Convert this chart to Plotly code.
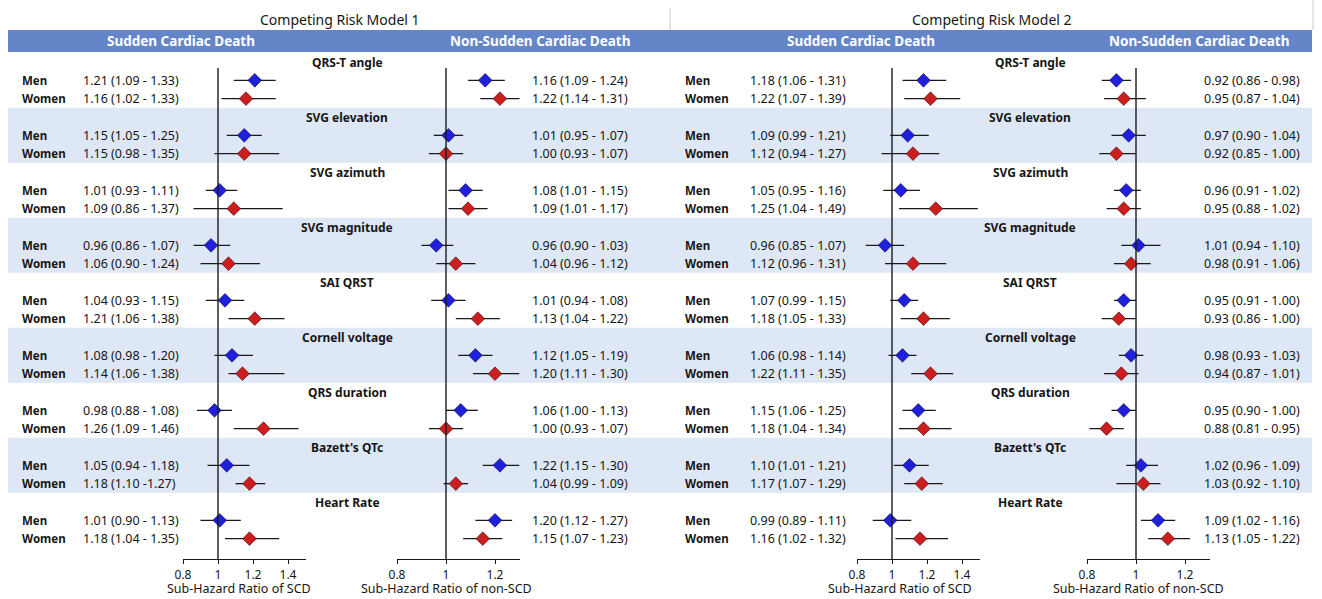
import plotly.graph_objects as go

W, H = 1322, 599

groups = ["QRS-T angle", "SVG elevation", "SVG azimuth", "SVG magnitude", "SAI QRST",
          "Cornell voltage", "QRS duration", "Bazett's QTc", "Heart Rate"]
sexes = ["Men", "Women"]

# Competing Risk Model 1 - sudden cardiac death
m1_scd_men_hr = [1.21, 1.15, 1.01, 0.96, 1.04, 1.08, 0.98, 1.05, 1.01]
m1_scd_men_lo = [1.09, 1.05, 0.93, 0.86, 0.93, 0.98, 0.88, 0.94, 0.90]
m1_scd_men_hi = [1.33, 1.25, 1.11, 1.07, 1.15, 1.20, 1.08, 1.18, 1.13]
m1_scd_women_hr = [1.16, 1.15, 1.09, 1.06, 1.21, 1.14, 1.26, 1.18, 1.18]
m1_scd_women_lo = [1.02, 0.98, 0.86, 0.90, 1.06, 1.06, 1.09, 1.10, 1.04]
m1_scd_women_hi = [1.33, 1.35, 1.37, 1.24, 1.38, 1.38, 1.46, 1.27, 1.35]

# Competing Risk Model 1 - non-sudden cardiac death
m1_nscd_men_hr = [1.16, 1.01, 1.08, 0.96, 1.01, 1.12, 1.06, 1.22, 1.20]
m1_nscd_men_lo = [1.09, 0.95, 1.01, 0.90, 0.94, 1.05, 1.00, 1.15, 1.12]
m1_nscd_men_hi = [1.24, 1.07, 1.15, 1.03, 1.08, 1.19, 1.13, 1.30, 1.27]
m1_nscd_women_hr = [1.22, 1.00, 1.09, 1.04, 1.13, 1.20, 1.00, 1.04, 1.15]
m1_nscd_women_lo = [1.14, 0.93, 1.01, 0.96, 1.04, 1.11, 0.93, 0.99, 1.07]
m1_nscd_women_hi = [1.31, 1.07, 1.17, 1.12, 1.22, 1.30, 1.07, 1.09, 1.23]

# Competing Risk Model 2 - sudden cardiac death
m2_scd_men_hr = [1.18, 1.09, 1.05, 0.96, 1.07, 1.06, 1.15, 1.10, 0.99]
m2_scd_men_lo = [1.06, 0.99, 0.95, 0.85, 0.99, 0.98, 1.06, 1.01, 0.89]
m2_scd_men_hi = [1.31, 1.21, 1.16, 1.07, 1.15, 1.14, 1.25, 1.21, 1.11]
m2_scd_women_hr = [1.22, 1.12, 1.25, 1.12, 1.18, 1.22, 1.18, 1.17, 1.16]
m2_scd_women_lo = [1.07, 0.94, 1.04, 0.96, 1.05, 1.11, 1.04, 1.07, 1.02]
m2_scd_women_hi = [1.39, 1.27, 1.49, 1.31, 1.33, 1.35, 1.34, 1.29, 1.32]

# Competing Risk Model 2 - non-sudden cardiac death
m2_nscd_men_hr = [0.92, 0.97, 0.96, 1.01, 0.95, 0.98, 0.95, 1.02, 1.09]
m2_nscd_men_lo = [0.86, 0.90, 0.91, 0.94, 0.91, 0.93, 0.90, 0.96, 1.02]
m2_nscd_men_hi = [0.98, 1.04, 1.02, 1.10, 1.00, 1.03, 1.00, 1.09, 1.16]
m2_nscd_women_hr = [0.95, 0.92, 0.95, 0.98, 0.93, 0.94, 0.88, 1.03, 1.13]
m2_nscd_women_lo = [0.87, 0.85, 0.88, 0.91, 0.86, 0.87, 0.81, 0.92, 1.05]
m2_nscd_women_hi = [1.04, 1.00, 1.02, 1.06, 1.00, 1.01, 0.95, 1.10, 1.22]

scd_ticks = [0.8, 1, 1.2, 1.4]
nscd_ticks = [0.8, 1, 1.2]
tick_text_scd = ["0.8", "1", "1.2", "1.4"]
tick_text_nscd = ["0.8", "1", "1.2"]

model_titles = ["Competing Risk Model 1", "Competing Risk Model 2"]
outcome_titles = ["Sudden Cardiac Death", "Non-Sudden Cardiac Death"]
axis_titles = ["Sub-Hazard Ratio of SCD", "Sub-Hazard Ratio of non-SCD"]

FONT = "Noto Sans, Open Sans, DejaVu Sans, sans-serif"
TXT = "#161616"
MEN_C = "#2020DC"
WOMEN_C = "#CC1E1E"
BAND_C = "#DEE7F5"
HEAD_C = "#6585C9"

# vertical layout: slot 0 = group title, 1 = men, 2 = women; 55 px per group
TOP_PX, SLOT_PX, AX_PX = 62.0, 55.0 / 3, 559.0


def slot_of_px(p):
    return (p - TOP_PX) / SLOT_PX


def paper_y(p):
    return 1 - p / H


def paper_x(p):
    return p / W


panels = [
    dict(px=(183, 305.5), rng=[0.8, 1.5], tv=scd_ticks, tt=tick_text_scd,
         data=[(m1_scd_men_hr, m1_scd_men_lo, m1_scd_men_hi),
               (m1_scd_women_hr, m1_scd_women_lo, m1_scd_women_hi)],
         text_x=81, title=axis_titles[0], title_x=239),
    dict(px=(397, 519.5), rng=[0.8, 1.3], tv=nscd_ticks, tt=tick_text_nscd,
         data=[(m1_nscd_men_hr, m1_nscd_men_lo, m1_nscd_men_hi),
               (m1_nscd_women_hr, m1_nscd_women_lo, m1_nscd_women_hi)],
         text_x=530, title=axis_titles[1], title_x=447),
    dict(px=(857, 979.5), rng=[0.8, 1.5], tv=scd_ticks, tt=tick_text_scd,
         data=[(m2_scd_men_hr, m2_scd_men_lo, m2_scd_men_hi),
               (m2_scd_women_hr, m2_scd_women_lo, m2_scd_women_hi)],
         text_x=748, title=axis_titles[0], title_x=900),
    dict(px=(1087, 1209.5), rng=[0.8, 1.3], tv=nscd_ticks, tt=tick_text_nscd,
         data=[(m2_nscd_men_hr, m2_nscd_men_lo, m2_nscd_men_hi),
               (m2_nscd_women_hr, m2_nscd_women_lo, m2_nscd_women_hi)],
         text_x=1202, title=axis_titles[1], title_x=1138),
]

# the one interval printed without a space after the dash
sep_override = {(0, 1, 7): " -"}

fig = go.Figure()
shapes, annots = [], []
n = len(groups)

for pi, p in enumerate(panels):
    xname = "x" if pi == 0 else f"x{pi + 1}"
    for si, (hr, lo, hi) in enumerate(p["data"]):
        ys = [3 * g + 1 + si for g in range(n)]
        col = MEN_C if si == 0 else WOMEN_C
        fig.add_trace(go.Scatter(
            x=hr, y=ys, xaxis=xname, yaxis="y", mode="markers",
            marker=dict(symbol="diamond", size=10.5, color=col,
                        line=dict(width=0.6, color="#3a0a0a" if si else "#0a0a4a")),
            error_x=dict(type="data", symmetric=False,
                         array=[h - v for h, v in zip(hi, hr)],
                         arrayminus=[v - l for v, l in zip(hr, lo)],
                         color="#1a1a1a", thickness=1.3, width=0),
            cliponaxis=False, showlegend=False, hoverinfo="skip"))
        for g in range(n):
            sep = sep_override.get((pi, si, g), " - ")
            annots.append(dict(
                x=paper_x(p["text_x"]), xref="paper", y=ys[g], yref="y",
                text=f"{hr[g]:.2f} ({lo[g]:.2f}{sep}{hi[g]:.2f})",
                showarrow=False, xanchor="left", yanchor="middle",
                font=dict(family=FONT, size=12.5, color=TXT)))
    # reference line at a ratio of 1
    shapes.append(dict(type="line", xref=xname, yref="y", x0=1, x1=1,
                       y0=slot_of_px(AX_PX), y1=slot_of_px(68),
                       line=dict(color="#1a1a1a", width=1.4), layer="above"))
    annots.append(dict(x=paper_x(p["title_x"]), xref="paper", y=0, yref="paper",
                       text=p["title"], showarrow=False, xanchor="center", yanchor="bottom",
                       font=dict(family=FONT, size=12.5, color=TXT)))

# alternating row bands
for g in range(1, n, 2):
    shapes.append(dict(type="rect", xref="paper", yref="y",
                       x0=paper_x(8), x1=paper_x(1312),
                       y0=3 * g - 0.5, y1=3 * g + 2.5,
                       fillcolor=BAND_C, line=dict(width=0), layer="below"))

# header bar
shapes.append(dict(type="rect", xref="paper", yref="paper",
                   x0=paper_x(8), x1=paper_x(1312), y0=paper_y(52), y1=paper_y(30),
                   fillcolor=HEAD_C, line=dict(width=0), layer="below"))
# light separators of the two model blocks
for xp, y_top, y_bot in [(670, 8, 30), (1313, 0, 30)]:
    shapes.append(dict(type="line", xref="paper", yref="paper",
                       x0=paper_x(xp), x1=paper_x(xp), y0=paper_y(y_bot), y1=paper_y(y_top),
                       line=dict(color="#d4d4d4", width=1.2), layer="below"))

for mx, title in zip([340, 992], model_titles):
    annots.append(dict(x=paper_x(mx), xref="paper", y=paper_y(20), yref="paper",
                       text=title, showarrow=False, xanchor="center", yanchor="middle",
                       font=dict(family=FONT, size=14, color=TXT)))
for hx, title in zip([181, 540, 861, 1199], outcome_titles * 2):
    annots.append(dict(x=paper_x(hx), xref="paper", y=paper_y(41), yref="paper",
                       text=f"<b>{title}</b>", showarrow=False, xanchor="center",
                       yanchor="middle", font=dict(family=FONT, size=13.5, color="white")))

# group titles and sex labels
for g, name in enumerate(groups):
    for gx in [347, 1030]:
        annots.append(dict(x=paper_x(gx), xref="paper", y=3 * g, yref="y",
                           text=f"<b>{name}</b>", showarrow=False, xanchor="center",
                           yanchor="middle", font=dict(family=FONT, size=12, color=TXT)))
    for si, sex in enumerate(sexes):
        for lx in [20, 683]:
            annots.append(dict(x=paper_x(lx), xref="paper", y=3 * g + 1 + si, yref="y",
                               text=f"<b>{sex}</b>", showarrow=False, xanchor="left",
                               yanchor="middle", font=dict(family=FONT, size=11.5, color=TXT)))

layout = dict(
    template="none",
    width=W, height=H, autosize=False,
    margin=dict(l=0, r=0, t=0, b=0, pad=0, autoexpand=False),
    paper_bgcolor="white", plot_bgcolor="rgba(0,0,0,0)",
    showlegend=False, shapes=shapes, annotations=annots,
    yaxis=dict(domain=[paper_y(AX_PX), 1], range=[slot_of_px(AX_PX), slot_of_px(0)],
               visible=False, fixedrange=True, automargin=False),
)
for pi, p in enumerate(panels):
    key = "xaxis" if pi == 0 else f"xaxis{pi + 1}"
    layout[key] = dict(
        domain=[paper_x(p["px"][0]), paper_x(p["px"][1])], range=p["rng"], anchor="y",
        showline=True, linecolor="#1a1a1a", linewidth=1.3, ticks="outside", ticklen=4,
        tickwidth=1.3, tickcolor="#1a1a1a", tickvals=p["tv"], ticktext=p["tt"],
        showgrid=False, zeroline=False, fixedrange=True, automargin=False,
        tickfont=dict(family=FONT, size=12, color=TXT))
fig.update_layout(**layout)

fig.write_html("out.html", config={"responsive": False, "displayModeBar": False})
